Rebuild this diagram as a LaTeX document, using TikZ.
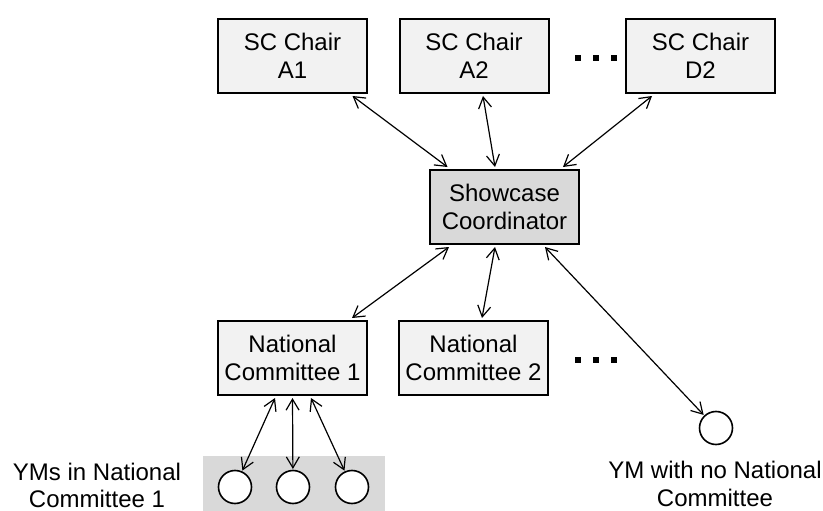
\documentclass[tikz,border=0pt]{standalone}
\usepackage{fontspec}
\setmainfont{Liberation Sans}
\usetikzlibrary{arrows.meta}
\definecolor{boxgray}{HTML}{F2F2F2}
\definecolor{coordgray}{HTML}{D9D9D9}

\begin{document}
\begin{tikzpicture}[x=1pt,y=-1pt,
    box/.style={draw,line width=2pt,fill=boxgray,minimum width=149pt,minimum height=74pt,
        align=center,inner sep=0pt,outer sep=3pt,font=\fontsize{24}{28}\selectfont},
    ym/.style={circle,draw,line width=1.6pt,fill=white,minimum size=33pt,inner sep=0pt,outer sep=1.5pt},
    link/.style={<->,>={Straight Barb[length=11pt,width=13pt]},line width=1.2pt},
    lbl/.style={align=center,inner sep=0pt}]
    \useasboundingbox (0,0) rectangle (823,511);

    % SC chairs
    \node[box] (a1) at (292.5,56) {SC Chair\\A1};
    \node[box] (a2) at (474,56) {SC Chair\\A2};
    \node[box] (d2) at (700.5,56) {SC Chair\\D2};
    \foreach \x in {575,593,611} \fill (\x,55) rectangle ++(6,6);

    % Coordinator
    \node[box,fill=coordgray] (coord) at (504.5,207) {Showcase\\Coordinator};

    % National committees
    \node[box] (nc1) at (292.5,358) {National\\Committee 1};
    \node[box] (nc2) at (473.5,358) {National\\Committee 2};
    \foreach \x in {575,593,611} \fill (\x,357) rectangle ++(6,6);

    % YMs
    \fill[coordgray] (203,456) rectangle (385,511);
    \node[ym] (y1) at (235,487) {};
    \node[ym] (y2) at (293,487) {};
    \node[ym] (y3) at (352,487) {};
    \node[ym] (ymx) at (716,428) {};
    \node[lbl,font=\fontsize{24}{27}\selectfont] (ylab) at (97,485) {YMs in National\\Committee 1};
    \node[lbl,font=\fontsize{24}{28}\selectfont] (xlab) at (715,484) {YM with no National\\Committee};

    % Links
    \draw[link] ([xshift=60pt]a1.south) -- ([xshift=-57pt]coord.north);
    \draw[link] ([xshift=9pt]a2.south) -- ([xshift=-9.5pt]coord.north);
    \draw[link] ([xshift=-48.5pt]d2.south) -- ([xshift=58.5pt]coord.north);
    \draw[link] ([xshift=-55.5pt]coord.south) -- ([xshift=59.5pt]nc1.north);
    \draw[link] ([xshift=-9.5pt]coord.south) -- ([xshift=8.5pt]nc2.north);
    \draw[link] ([xshift=40.5pt]coord.south) -- (ymx);
    \draw[link] ([xshift=-17.5pt]nc1.south) -- (y1);
    \draw[link] (nc1.south) -- (y2);
    \draw[link] ([xshift=18.5pt]nc1.south) -- (y3);
\end{tikzpicture}
\end{document}
